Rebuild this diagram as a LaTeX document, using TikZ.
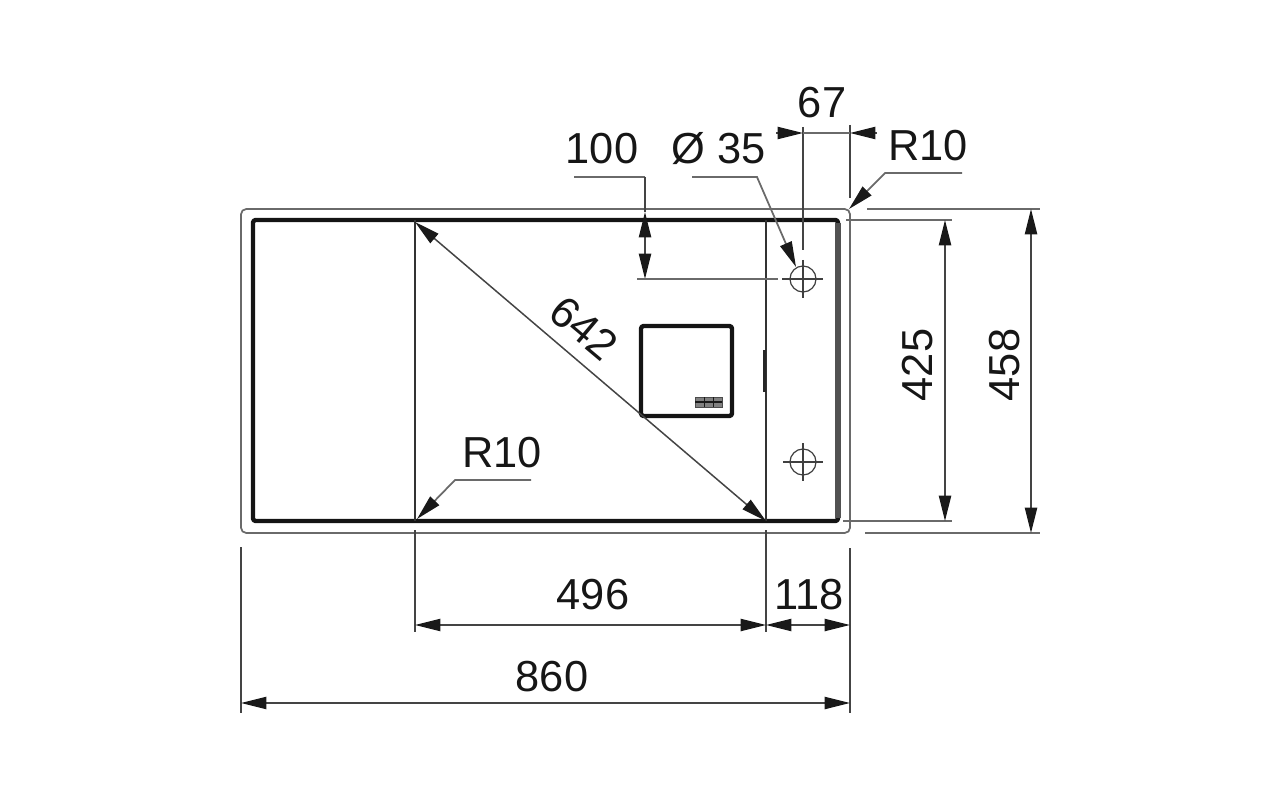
\documentclass[tikz,border=0pt]{standalone}
\usepackage{fontspec}
\setmainfont{Liberation Sans}
\usetikzlibrary{arrows.meta}
\definecolor{dimgrey}{HTML}{444444}
\definecolor{rimgrey}{HTML}{6A6A6A}
\definecolor{textblack}{HTML}{161616}
\tikzset{
  dimline/.style={draw=dimgrey,line width=0.85pt,>={Triangle[length=14.5pt,width=7pt,color=black!90]}},
  leaderline/.style={draw=rimgrey,line width=1pt,>={Triangle[length=14.5pt,width=7pt,color=black!90]}},
  heavyline/.style={draw=black!92,line width=2.5pt,line join=round},
  thinline/.style={draw=black!80,line width=1.3pt},
  holeline/.style={draw=black!75,line width=0.7pt},
  dimtext/.style={inner sep=0pt,text=textblack,font=\fontsize{24.7}{24.7}\selectfont},
}
\begin{document}
\begin{tikzpicture}[x=0.02cm,y=-0.02cm]
\useasboundingbox (0,0) rectangle (1280,800);
% sink outline
\draw [draw=rimgrey,line width=1pt,rounded corners=3pt] (241,209) rectangle (850,533);
\draw [heavyline,rounded corners=1.5pt] (253,220) rectangle (838,521);
\draw [draw=black!68,line width=3pt] (838,223) -- (838,518);
\draw [thinline] (415,220) -- (415,521);
\draw [thinline] (766,220) -- (766,521);
\draw [draw=black!85,line width=1.7pt] (764,350) -- (764,392);
% bowl drain
\draw [heavyline,rounded corners=1.5pt] (641,326) rectangle (732,416);
\draw [draw=black!70,fill=black!50,line width=0.5pt] (695,397) rectangle (722,407);
\draw [draw=black!90,line width=0.7pt] (695,402) -- (722,402);
\draw [draw=black!90,line width=0.4pt] (704,397) -- (704,407);
\draw [draw=black!90,line width=0.4pt] (713,397) -- (713,407);
% tap holes
\draw [holeline] (803,279) circle (13);
\draw [holeline] (782,279) -- (823,279);
\draw [holeline] (803,260) -- (803,298);
\draw [holeline] (803,462) circle (13);
\draw [holeline] (783,462) -- (823,462);
\draw [holeline] (803,443) -- (803,481);
% dim 67
\draw [dimline] (803,127) -- (803,250);
\draw [dimline] (850,125) -- (850,198);
\draw [dimline,->] (776,133) -- (803,133);
\draw [leaderline] (803,133) -- (850,133);
\draw [dimline,->] (877,133) -- (850,133);
% dim 100
\draw [leaderline] (574,177) -- (645,177);
\draw [dimline,<->] (645,212) -- (645,279);
\draw [dimline] (645,177) -- (645,212);
\draw [leaderline] (637,279) -- (778,279);
% leaders
\draw [leaderline,->] (692,177) -- (757,177) -- (796,267);
\draw [leaderline,->] (962,173) -- (885,173) -- (849,209);
\draw [leaderline,->] (531,480) -- (455,480) -- (417,519);
% dim 642
\draw [dimline,<->] (415,222) -- (766,521);
% dim 496 118 860
\draw [dimline] (415,530) -- (415,632);
\draw [dimline] (766,530) -- (766,632);
\draw [dimline] (850,548) -- (850,713);
\draw [dimline] (241,547) -- (241,713);
\draw [dimline,<->] (415,625) -- (766,625);
\draw [dimline,<->] (766,625) -- (850,625);
\draw [dimline,<->] (241,703) -- (850,703);
% dim 425 458
\draw [leaderline] (846,220) -- (952,220);
\draw [leaderline] (843,521) -- (952,521);
\draw [leaderline] (867,209) -- (1040,209);
\draw [leaderline] (865,533) -- (1040,533);
\draw [dimline,<->] (945,220) -- (945,521);
\draw [dimline,<->] (1031,209) -- (1031,533);
% labels
\node [dimtext] (lab67) at (822,103) {67};
\node [dimtext] (labtapr) at (928,146) {R10};
\node [dimtext] (labdia) at (719,149) {Ø 35};
\node [dimtext] (lab100) at (602,149) {100};
\node [dimtext,rotate=-40] (lab642) at (584,328) {642};
\node [dimtext] (labbowlr) at (502,453) {R10};
\node [dimtext] (lab496) at (593,595) {496};
\node [dimtext] (lab118) at (809,595) {118};
\node [dimtext] (lab860) at (552,677) {860};
\node [dimtext,rotate=90] (lab425) at (918,365) {425};
\node [dimtext,rotate=90] (lab458) at (1005,365) {458};
\end{tikzpicture}
\end{document}
